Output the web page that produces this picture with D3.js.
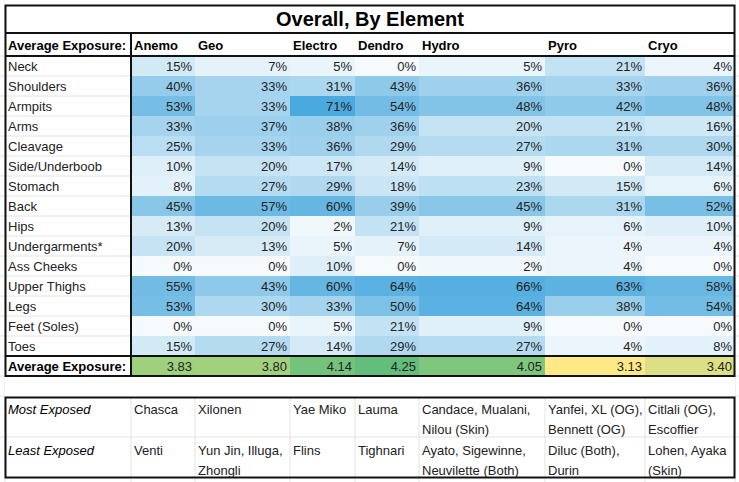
<!DOCTYPE html>
<html><head><meta charset="utf-8">
<script src="https://cdn.jsdelivr.net/npm/d3@7"></script>
<style>body{margin:0;background:#fff}</style></head>
<body><svg id="c" width="739" height="482"></svg>
<script>
const elements=["Anemo","Geo","Electro","Dendro","Hydro","Pyro","Cryo"];
const parts=["Neck","Shoulders","Armpits","Arms","Cleavage","Side/Underboob","Stomach","Back","Hips","Undergarments*","Ass Cheeks","Upper Thighs","Legs","Feet (Soles)","Toes"];
const anemo=[15,40,53,33,25,10,8,45,13,20,0,55,53,0,15];
const geo=[7,33,33,37,33,20,27,57,20,13,0,43,30,0,27];
const electro=[5,31,71,38,36,17,29,60,2,5,10,60,33,5,14];
const dendro=[0,43,54,36,29,14,18,39,21,7,0,64,50,21,29];
const hydro=[5,36,48,20,27,9,23,45,9,14,2,66,64,9,27];
const pyro=[21,33,42,21,31,0,15,31,6,4,4,63,38,0,4];
const cryo=[4,36,48,16,30,14,6,52,10,4,0,58,54,0,8];
const series=[anemo,geo,electro,dendro,hydro,pyro,cryo];
const avgExposure=[3.83,3.80,4.14,4.25,4.05,3.13,3.40];
const mostExposed=[["Chasca"],["Xilonen"],["Yae Miko"],["Lauma"],["Candace, Mualani,","Nilou (Skin)"],["Yanfei, XL (OG),","Bennett (OG)"],["Citlali (OG),","Escoffier"]];
const leastExposed=[["Venti"],["Yun Jin, Illuga,","Zhongli"],["Flins"],["Tighnari"],["Ayato, Sigewinne,","Neuvilette (Both)"],["Diluc (Both),","Durin"],["Lohen, Ayaka","(Skin)"]];

const svg=d3.select("#c");
const F="'Liberation Sans Narrow','Liberation Sans',Arial,sans-serif";
const edges=[5,131,195,290,355,419,545,645,735];
const x=d3.scaleOrdinal().domain(elements).range(edges.slice(1,8));
const xEnd=d3.scaleOrdinal().domain(elements).range(edges.slice(2));
const y=d3.scaleBand().domain(parts).range([56,356]);
const blue=d3.scaleLinear().domain([0,71]).range(["#f6fafd","#4aa9de"]);
const green=d3.scaleLinear().domain([3.13,3.69,4.25]).range(["#ffe986","#b2d67f","#63be7b"]);
const g=svg.append("g");
for(const xe of edges) g.append("line").attr("x1",xe).attr("x2",xe).attr("y1",0).attr("y2",482).attr("stroke","#e3e3e3");
for(let yy=56;yy<=400;yy+=20) g.append("line").attr("x1",0).attr("x2",739).attr("y1",yy).attr("y2",yy).attr("stroke","#e3e3e3");
g.append("line").attr("x1",0).attr("x2",739).attr("y1",437).attr("y2",437).attr("stroke","#e3e3e3");
g.append("rect").attr("x",5).attr("y",376).attr("width",730).attr("height",21).attr("fill","#fff");
g.append("rect").attr("x",5).attr("y",0).attr("width",730).attr("height",33).attr("fill","#fff");
g.append("rect").attr("x",5).attr("y",33).attr("width",730).attr("height",23).attr("fill","#fff");
elements.forEach((e,i)=>{
  parts.forEach((p,j)=>{
    const v=series[i][j];
    g.append("rect").attr("x",x(e)).attr("y",y(p)).attr("width",xEnd(e)-x(e)).attr("height",y.bandwidth()).attr("fill",blue(v));
    g.append("text").attr("x",xEnd(e)-3).attr("y",y(p)+15).attr("text-anchor","end").attr("font-family",F).attr("font-size",13).attr("fill","#222").text(v+"%");
  });
  g.append("rect").attr("x",x(e)).attr("y",356).attr("width",xEnd(e)-x(e)).attr("height",20).attr("fill",green(avgExposure[i]));
  g.append("text").attr("x",xEnd(e)-3).attr("y",371).attr("text-anchor","end").attr("font-family",F).attr("font-size",13).attr("fill","#222").text(avgExposure[i].toFixed(2));
  g.append("text").attr("x",x(e)+3).attr("y",50).attr("font-family",F).attr("font-size",13).attr("font-weight","bold").text(e);
  [[mostExposed,397],[leastExposed,438]].forEach(([arr,y0])=>{
    arr[i].forEach((l,k)=>g.append("text").attr("x",x(e)+3).attr("y",y0+17+k*20).attr("font-family",F).attr("font-size",13).attr("fill","#222").text(l));
  });
});
parts.forEach(p=>g.append("text").attr("x",8).attr("y",y(p)+15).attr("font-family",F).attr("font-size",13).attr("fill","#222").text(p));
g.append("text").attr("x",8).attr("y",50).attr("font-family",F).attr("font-size",13).attr("font-weight","bold").text("Average Exposure:");
g.append("text").attr("x",8).attr("y",371).attr("font-family",F).attr("font-size",13).attr("font-weight","bold").text("Average Exposure:");
g.append("text").attr("x",8).attr("y",414).attr("font-family",F).attr("font-size",13).attr("font-style","italic").text("Most Exposed");
g.append("text").attr("x",8).attr("y",455).attr("font-family",F).attr("font-size",13).attr("font-style","italic").text("Least Exposed");
g.append("text").attr("x",370).attr("y",26).attr("text-anchor","middle").attr("font-family","'Liberation Sans',Arial,sans-serif").attr("font-size",20).attr("font-weight","bold").text("Overall, By Element");
const K="#111";
g.append("rect").attr("x",5.5).attr("y",5.5).attr("width",729).attr("height",370.5).attr("fill","none").attr("stroke",K).attr("stroke-width",2);
g.append("line").attr("x1",5).attr("x2",735).attr("y1",33).attr("y2",33).attr("stroke",K).attr("stroke-width",2);
g.append("line").attr("x1",5).attr("x2",735).attr("y1",56).attr("y2",56).attr("stroke",K).attr("stroke-width",2);
g.append("line").attr("x1",5).attr("x2",735).attr("y1",356).attr("y2",356).attr("stroke",K).attr("stroke-width",2);
g.append("line").attr("x1",131).attr("x2",131).attr("y1",33).attr("y2",376).attr("stroke",K).attr("stroke-width",2);
g.append("rect").attr("x",5.5).attr("y",397.5).attr("width",729).attr("height",80).attr("fill","none").attr("stroke",K).attr("stroke-width",2);
</script></body></html>
